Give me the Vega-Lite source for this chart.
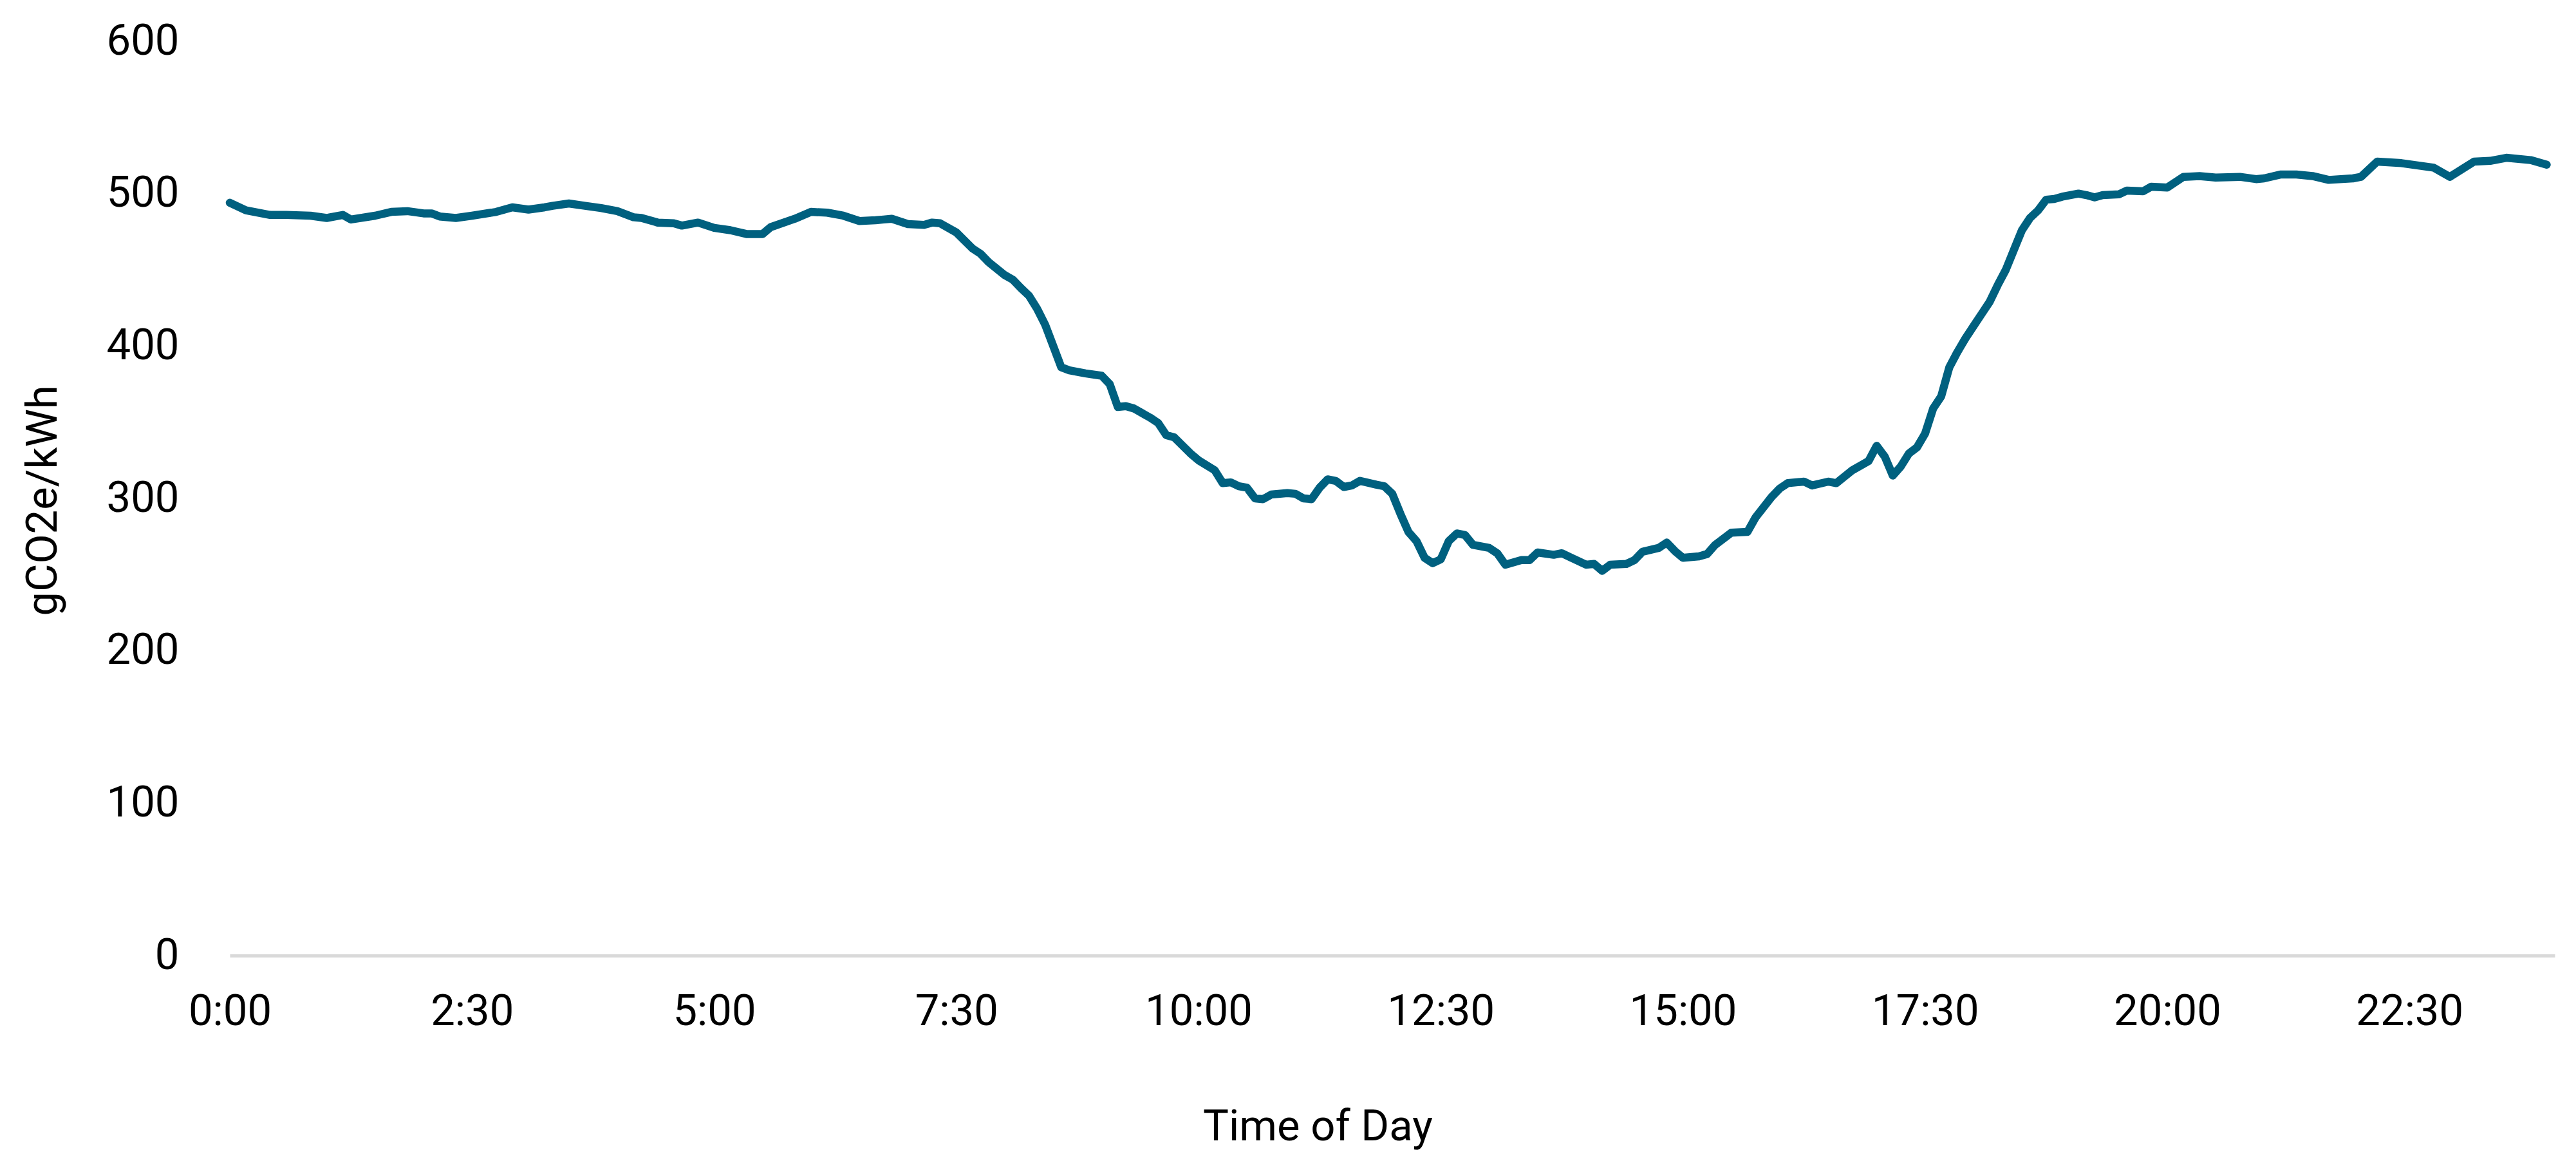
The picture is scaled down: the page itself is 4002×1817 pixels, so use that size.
{
  "$schema": "https://vega.github.io/schema/vega-lite/v6.json",
  "width": 3612,
  "height": 1420,
  "autosize": {"type": "none"},
  "padding": {"left": 357, "top": 64, "right": 33, "bottom": 333},
  "background": "white",
  "config": {"view": {"stroke": null}, "font": "Roboto"},
  "data": {
    "values": [
      {"minute": 0, "gco2e": 494}, {"minute": 10, "gco2e": 489}, {"minute": 25, "gco2e": 486},
      {"minute": 35, "gco2e": 486}, {"minute": 50, "gco2e": 485.5}, {"minute": 60, "gco2e": 484},
      {"minute": 70, "gco2e": 486}, {"minute": 75, "gco2e": 483}, {"minute": 90, "gco2e": 485.5},
      {"minute": 100, "gco2e": 488}, {"minute": 110, "gco2e": 488.5}, {"minute": 120, "gco2e": 487},
      {"minute": 125, "gco2e": 487}, {"minute": 130, "gco2e": 485}, {"minute": 140, "gco2e": 484},
      {"minute": 150, "gco2e": 485.5}, {"minute": 165, "gco2e": 488}, {"minute": 175, "gco2e": 491},
      {"minute": 185, "gco2e": 489.5}, {"minute": 195, "gco2e": 491}, {"minute": 200, "gco2e": 492},
      {"minute": 210, "gco2e": 493.5}, {"minute": 220, "gco2e": 492}, {"minute": 230, "gco2e": 490.5},
      {"minute": 240, "gco2e": 488.5}, {"minute": 250, "gco2e": 484.5}, {"minute": 255, "gco2e": 484},
      {"minute": 265, "gco2e": 481}, {"minute": 275, "gco2e": 480.5}, {"minute": 280, "gco2e": 479},
      {"minute": 290, "gco2e": 481}, {"minute": 300, "gco2e": 477.5}, {"minute": 310, "gco2e": 476},
      {"minute": 320, "gco2e": 473.5}, {"minute": 330, "gco2e": 473.5}, {"minute": 335, "gco2e": 478},
      {"minute": 350, "gco2e": 483.5}, {"minute": 360, "gco2e": 488}, {"minute": 370, "gco2e": 487.5},
      {"minute": 380, "gco2e": 485.5}, {"minute": 390, "gco2e": 482}, {"minute": 400, "gco2e": 482.5},
      {"minute": 405, "gco2e": 483}, {"minute": 410, "gco2e": 483.5}, {"minute": 420, "gco2e": 480},
      {"minute": 430, "gco2e": 479.5}, {"minute": 435, "gco2e": 481}, {"minute": 440, "gco2e": 480.5},
      {"minute": 450, "gco2e": 474.5}, {"minute": 460, "gco2e": 464}, {"minute": 465, "gco2e": 460.5},
      {"minute": 470, "gco2e": 455}, {"minute": 480, "gco2e": 446.5}, {"minute": 485, "gco2e": 443.5},
      {"minute": 490, "gco2e": 438}, {"minute": 495, "gco2e": 433}, {"minute": 500, "gco2e": 424.5},
      {"minute": 505, "gco2e": 414}, {"minute": 510, "gco2e": 400}, {"minute": 515, "gco2e": 386},
      {"minute": 520, "gco2e": 384}, {"minute": 530, "gco2e": 382}, {"minute": 540, "gco2e": 380.5},
      {"minute": 545, "gco2e": 375}, {"minute": 550, "gco2e": 360}, {"minute": 555, "gco2e": 360.5},
      {"minute": 560, "gco2e": 359}, {"minute": 570, "gco2e": 353}, {"minute": 575, "gco2e": 349.5},
      {"minute": 580, "gco2e": 341.5}, {"minute": 585, "gco2e": 340}, {"minute": 595, "gco2e": 329.5},
      {"minute": 600, "gco2e": 325}, {"minute": 610, "gco2e": 318.5}, {"minute": 615, "gco2e": 310},
      {"minute": 620, "gco2e": 310.5}, {"minute": 625, "gco2e": 308}, {"minute": 630, "gco2e": 307},
      {"minute": 635, "gco2e": 300}, {"minute": 640, "gco2e": 299.5}, {"minute": 645, "gco2e": 302.5},
      {"minute": 655, "gco2e": 303.5}, {"minute": 660, "gco2e": 303}, {"minute": 665, "gco2e": 300},
      {"minute": 670, "gco2e": 299.5}, {"minute": 675, "gco2e": 307}, {"minute": 680, "gco2e": 312.5},
      {"minute": 685, "gco2e": 311.5}, {"minute": 690, "gco2e": 307.5}, {"minute": 695, "gco2e": 308.5},
      {"minute": 700, "gco2e": 311.5}, {"minute": 710, "gco2e": 309}, {"minute": 715, "gco2e": 308},
      {"minute": 720, "gco2e": 303}, {"minute": 725, "gco2e": 290}, {"minute": 730, "gco2e": 278},
      {"minute": 735, "gco2e": 272}, {"minute": 740, "gco2e": 261}, {"minute": 745, "gco2e": 257.5},
      {"minute": 750, "gco2e": 260}, {"minute": 755, "gco2e": 272}, {"minute": 760, "gco2e": 277},
      {"minute": 765, "gco2e": 276}, {"minute": 770, "gco2e": 269.5}, {"minute": 780, "gco2e": 267.5},
      {"minute": 785, "gco2e": 264}, {"minute": 790, "gco2e": 256.5}, {"minute": 800, "gco2e": 259.5},
      {"minute": 805, "gco2e": 259.5}, {"minute": 810, "gco2e": 264.5}, {"minute": 820, "gco2e": 263},
      {"minute": 825, "gco2e": 264}, {"minute": 830, "gco2e": 261.5}, {"minute": 840, "gco2e": 256.5},
      {"minute": 845, "gco2e": 257}, {"minute": 850, "gco2e": 252.5}, {"minute": 855, "gco2e": 256.5},
      {"minute": 865, "gco2e": 257}, {"minute": 870, "gco2e": 259.5}, {"minute": 875, "gco2e": 265},
      {"minute": 885, "gco2e": 267.5}, {"minute": 890, "gco2e": 271}, {"minute": 895, "gco2e": 265.5},
      {"minute": 900, "gco2e": 261}, {"minute": 910, "gco2e": 262}, {"minute": 915, "gco2e": 263.5},
      {"minute": 920, "gco2e": 269.5}, {"minute": 930, "gco2e": 277.5}, {"minute": 940, "gco2e": 278},
      {"minute": 945, "gco2e": 287.5}, {"minute": 955, "gco2e": 301}, {"minute": 960, "gco2e": 306.5},
      {"minute": 965, "gco2e": 310}, {"minute": 975, "gco2e": 311}, {"minute": 980, "gco2e": 308.5},
      {"minute": 990, "gco2e": 311}, {"minute": 995, "gco2e": 310}, {"minute": 1005, "gco2e": 318.5},
      {"minute": 1015, "gco2e": 324.5}, {"minute": 1020, "gco2e": 334.5}, {"minute": 1025, "gco2e": 327.5},
      {"minute": 1030, "gco2e": 315}, {"minute": 1035, "gco2e": 321}, {"minute": 1040, "gco2e": 329.5},
      {"minute": 1045, "gco2e": 333.5}, {"minute": 1050, "gco2e": 342.5}, {"minute": 1055, "gco2e": 359},
      {"minute": 1060, "gco2e": 367}, {"minute": 1065, "gco2e": 386}, {"minute": 1070, "gco2e": 396},
      {"minute": 1075, "gco2e": 405}, {"minute": 1080, "gco2e": 413}, {"minute": 1085, "gco2e": 421},
      {"minute": 1090, "gco2e": 429}, {"minute": 1095, "gco2e": 440}, {"minute": 1100, "gco2e": 450},
      {"minute": 1105, "gco2e": 463}, {"minute": 1110, "gco2e": 476}, {"minute": 1115, "gco2e": 484},
      {"minute": 1120, "gco2e": 489}, {"minute": 1125, "gco2e": 496}, {"minute": 1130, "gco2e": 496.5},
      {"minute": 1135, "gco2e": 498}, {"minute": 1145, "gco2e": 500}, {"minute": 1150, "gco2e": 499},
      {"minute": 1155, "gco2e": 497.5}, {"minute": 1160, "gco2e": 499}, {"minute": 1170, "gco2e": 499.5},
      {"minute": 1175, "gco2e": 502}, {"minute": 1185, "gco2e": 501.5}, {"minute": 1190, "gco2e": 504.5},
      {"minute": 1200, "gco2e": 504}, {"minute": 1210, "gco2e": 511}, {"minute": 1220, "gco2e": 511.5},
      {"minute": 1230, "gco2e": 510.5}, {"minute": 1245, "gco2e": 511}, {"minute": 1255, "gco2e": 509.5},
      {"minute": 1260, "gco2e": 510}, {"minute": 1270, "gco2e": 512.5}, {"minute": 1280, "gco2e": 512.5},
      {"minute": 1290, "gco2e": 511.5}, {"minute": 1300, "gco2e": 509}, {"minute": 1315, "gco2e": 510},
      {"minute": 1320, "gco2e": 511}, {"minute": 1330, "gco2e": 521}, {"minute": 1345, "gco2e": 520},
      {"minute": 1355, "gco2e": 518.5}, {"minute": 1365, "gco2e": 517}, {"minute": 1375, "gco2e": 511},
      {"minute": 1390, "gco2e": 521}, {"minute": 1400, "gco2e": 521.5}, {"minute": 1410, "gco2e": 523.5},
      {"minute": 1425, "gco2e": 522}, {"minute": 1435, "gco2e": 519}
    ]
  },
  "mark": {"type": "line", "color": "#00607f", "strokeWidth": 12.5, "strokeCap": "round", "strokeJoin": "round"},
  "encoding": {
    "x": {
      "field": "minute",
      "type": "quantitative",
      "scale": {"domain": [0, 1440], "nice": false, "zero": false},
      "axis": {
        "title": "Time of Day",
        "values": [0, 150, 300, 450, 600, 750, 900, 1050, 1200, 1350],
        "labelExpr": "floor(datum.value / 60) + ':' + (datum.value % 60 == 0 ? '00' : '30')",
        "grid": false,
        "ticks": false,
        "tickSize": 0,
        "labelPadding": 54,
        "labelFontSize": 67,
        "labelFont": "Roboto",
        "labelColor": "#000000",
        "labelFlush": false,
        "labelOverlap": false,
        "domainColor": "#d9d9d9",
        "domainWidth": 5,
        "titleFont": "Roboto",
        "titleFontSize": 67,
        "titleFontWeight": "normal",
        "titleColor": "#000000",
        "titleX": 1690,
        "titleY": 286,
        "titleBaseline": "alphabetic",
        "titleAlign": "center"
      }
    },
    "y": {
      "field": "gco2e",
      "type": "quantitative",
      "scale": {"domain": [0, 600], "nice": false},
      "axis": {
        "title": "gCO2e/kWh",
        "values": [0, 100, 200, 300, 400, 500, 600],
        "grid": false,
        "ticks": false,
        "tickSize": 0,
        "domain": false,
        "labelPadding": 79,
        "labelFontSize": 67,
        "labelFont": "Roboto",
        "labelColor": "#000000",
        "labelFlush": false,
        "labelOverlap": false,
        "titleFont": "Roboto",
        "titleFontSize": 67,
        "titleFontWeight": "normal",
        "titleColor": "#000000",
        "titleAngle": 270,
        "titleX": -270,
        "titleY": 713,
        "titleBaseline": "alphabetic",
        "titleAlign": "center"
      }
    }
  }
}
